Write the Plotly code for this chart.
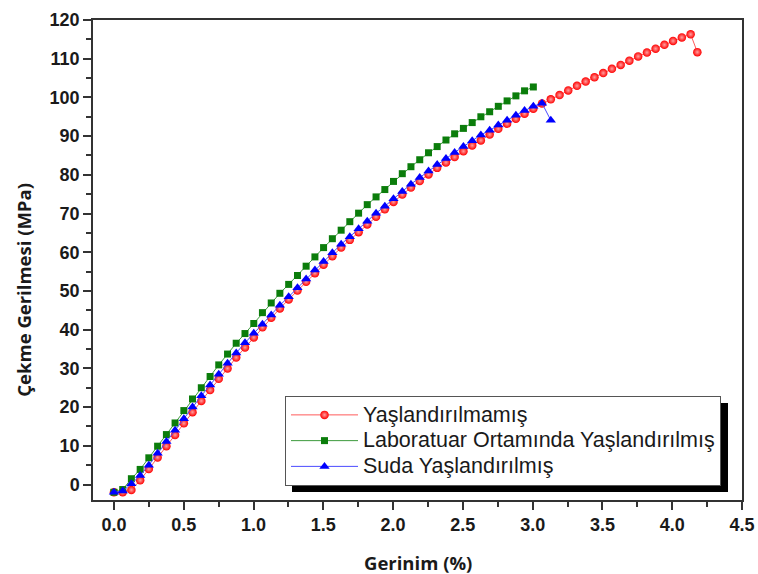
import plotly.graph_objects as go

# --- data ---
strain_red = [0.000, 0.063, 0.125, 0.188, 0.250, 0.313, 0.376, 0.438, 0.501, 0.563,
              0.626, 0.689, 0.751, 0.814, 0.876, 0.939, 1.002, 1.064, 1.127, 1.189,
              1.252, 1.315, 1.377, 1.440, 1.502, 1.565, 1.628, 1.690, 1.753, 1.815,
              1.878, 1.941, 2.003, 2.066, 2.128, 2.191, 2.254, 2.316, 2.379, 2.441,
              2.504, 2.567, 2.629, 2.692, 2.754, 2.817, 2.880, 2.942, 3.005, 3.067,
              3.130, 3.193, 3.255, 3.318, 3.380, 3.443, 3.506, 3.568, 3.631, 3.693,
              3.756, 3.819, 3.881, 3.944, 4.006, 4.069, 4.132, 4.180]
stress_red = [-2.0, -2.0, -1.4, 1.1, 4.0, 7.0, 9.9, 12.8, 15.8, 18.7,
              21.6, 24.4, 27.3, 30.0, 32.8, 35.4, 38.0, 40.6, 43.1, 45.5,
              47.8, 50.1, 52.4, 54.6, 56.8, 59.0, 61.2, 63.2, 65.2, 67.2,
              69.2, 71.1, 73.0, 74.9, 76.7, 78.4, 80.1, 81.8, 83.2, 84.6,
              86.1, 87.6, 88.9, 90.4, 91.9, 93.2, 94.5, 95.8, 97.1, 98.4,
              99.5, 100.6, 101.8, 103.0, 104.1, 105.2, 106.3, 107.4, 108.4, 109.5,
              110.6, 111.6, 112.6, 113.6, 114.6, 115.5, 116.3, 111.7]

strain_green = [0.000, 0.063, 0.125, 0.188, 0.250, 0.313, 0.376, 0.438, 0.501, 0.563,
                0.626, 0.689, 0.751, 0.814, 0.876, 0.939, 1.002, 1.064, 1.127, 1.189,
                1.252, 1.315, 1.377, 1.440, 1.502, 1.565, 1.628, 1.690, 1.753, 1.815,
                1.878, 1.941, 2.003, 2.066, 2.128, 2.191, 2.254, 2.316, 2.379, 2.441,
                2.504, 2.567, 2.629, 2.692, 2.754, 2.817, 2.880, 2.942, 3.005]
stress_green = [-2.0, -1.3, 1.5, 3.9, 6.9, 9.9, 12.9, 15.9, 19.1, 22.1,
                25.0, 27.9, 30.9, 33.7, 36.5, 39.0, 41.6, 44.4, 46.9, 49.4,
                51.7, 54.0, 56.4, 58.8, 61.2, 63.5, 65.7, 67.9, 70.1, 72.3,
                74.3, 76.2, 78.3, 80.3, 82.1, 83.9, 85.7, 87.3, 89.0, 90.6,
                92.0, 93.5, 95.0, 96.3, 97.7, 99.1, 100.4, 101.7, 102.7]

strain_blue = [0.000, 0.063, 0.125, 0.188, 0.250, 0.313, 0.376, 0.438, 0.501, 0.563,
               0.626, 0.689, 0.751, 0.814, 0.876, 0.939, 1.002, 1.064, 1.127, 1.189,
               1.252, 1.315, 1.377, 1.440, 1.502, 1.565, 1.628, 1.690, 1.753, 1.815,
               1.878, 1.941, 2.003, 2.066, 2.128, 2.191, 2.254, 2.316, 2.379, 2.441,
               2.504, 2.567, 2.629, 2.692, 2.754, 2.817, 2.880, 2.942, 3.005, 3.067,
               3.130]
stress_blue = [-2.0, -1.7, 0.2, 2.3, 5.0, 8.1, 11.1, 14.0, 17.0, 20.0,
               22.9, 25.7, 28.5, 31.3, 34.0, 36.6, 39.1, 41.4, 43.8, 46.3,
               48.5, 50.8, 53.1, 55.4, 57.6, 59.9, 62.1, 64.0, 66.1, 68.0,
               70.1, 71.9, 73.8, 75.7, 77.6, 79.3, 81.0, 82.7, 84.2, 85.8,
               87.3, 88.8, 90.3, 91.5, 92.9, 94.1, 95.4, 96.6, 97.7, 98.5,
               94.1]

series_names = ["Yaşlandırılmamış",
                "Laboratuar Ortamında Yaşlandırılmış",
                "Suda Yaşlandırılmış"]
x_ticks = [0.0, 0.5, 1.0, 1.5, 2.0, 2.5, 3.0, 3.5, 4.0, 4.5]
y_ticks = [0, 10, 20, 30, 40, 50, 60, 70, 80, 90, 100, 110, 120]


def legend_label(s):
    return f'<span style="font-size:21.5px">{s}</span>'


fig = go.Figure()
fig.add_trace(go.Scatter(
    x=strain_red, y=stress_red, name=legend_label(series_names[0]), mode="lines+markers",
    line=dict(color="#ff5a5a", width=1),
    marker=dict(symbol="circle", size=8.5, color="#ff0000",
                gradient=dict(type="radial", color="#ffa0a0"),
                line=dict(width=0))))
fig.add_trace(go.Scatter(
    x=strain_green, y=stress_green, name=legend_label(series_names[1]), mode="lines+markers",
    line=dict(color="#3c9a3c", width=1),
    marker=dict(symbol="square", size=7, color="#0b7d0b", line=dict(width=0))))
fig.add_trace(go.Scatter(
    x=strain_blue, y=stress_blue, name=legend_label(series_names[2]), mode="lines+markers",
    line=dict(color="#4a4aff", width=1),
    marker=dict(symbol="triangle-up", size=9, color="#0000ff", line=dict(width=0))))

tickfont = dict(family="Arial, Liberation Sans, sans-serif", size=18, color="#1a1a1a",
                weight="bold")
axis_common = dict(showline=True, linecolor="#333333", linewidth=1.5, mirror=True,
                   ticks="outside", ticklen=8, tickwidth=1.5, tickcolor="#333333",
                   showgrid=False, zeroline=False, tickfont=tickfont, automargin=False)

fig.update_xaxes(range=[-0.15, 4.5], tickvals=x_ticks,
                 ticktext=[f"{v:.1f}" for v in x_ticks],
                 minor=dict(dtick=0.25, ticks="outside", ticklen=5, tickwidth=1.5,
                            tickcolor="#333333", showgrid=False),
                 **axis_common)
fig.update_yaxes(range=[-4, 120], tickvals=y_ticks,
                 minor=dict(dtick=5, ticks="outside", ticklen=5, tickwidth=1.5,
                            tickcolor="#333333", showgrid=False),
                 **axis_common)

# legend shadow
fig.add_shape(type="rect", xref="paper", yref="paper",
              x0=(292 - 93) / 649, x1=(728 - 93) / 649,
              y0=(500 - 492) / 480, y1=(500 - 403) / 480,
              fillcolor="black", line=dict(width=0), layer="above")

titlefont = dict(family="Open Sans, sans-serif", size=18.5, color="#1a1a1a")
fig.add_annotation(text="<b>Gerinim (%)</b>", xref="paper", yref="paper",
                   x=0.5, y=(500 - 562) / 480, showarrow=False, font=titlefont,
                   xanchor="center", yanchor="middle")
fig.add_annotation(text="<b>Çekme Gerilmesi (MPa)</b>", xref="paper", yref="paper",
                   x=(22.7 - 93) / 649, y=(500 - 290) / 480, showarrow=False,
                   font=titlefont, textangle=-90, xanchor="center", yanchor="middle")

fig.update_layout(
    width=758, height=574,
    margin=dict(l=93, r=16, t=20, b=74, autoexpand=False),
    paper_bgcolor="white", plot_bgcolor="white",
    showlegend=True,
    legend=dict(x=(285 - 93) / 649, y=(500 - 396) / 480, xanchor="left", yanchor="top",
                bgcolor="white", bordercolor="#555555", borderwidth=1,
                font=dict(family="Arial, Liberation Sans, sans-serif", size=17.5, color="#1a1a1a"),
                itemwidth=67, tracegroupgap=0),
)

fig.write_html("out.html", config={"displayModeBar": False},
               post_script="document.body.style.margin='0px';document.body.style.overflow='hidden';")
